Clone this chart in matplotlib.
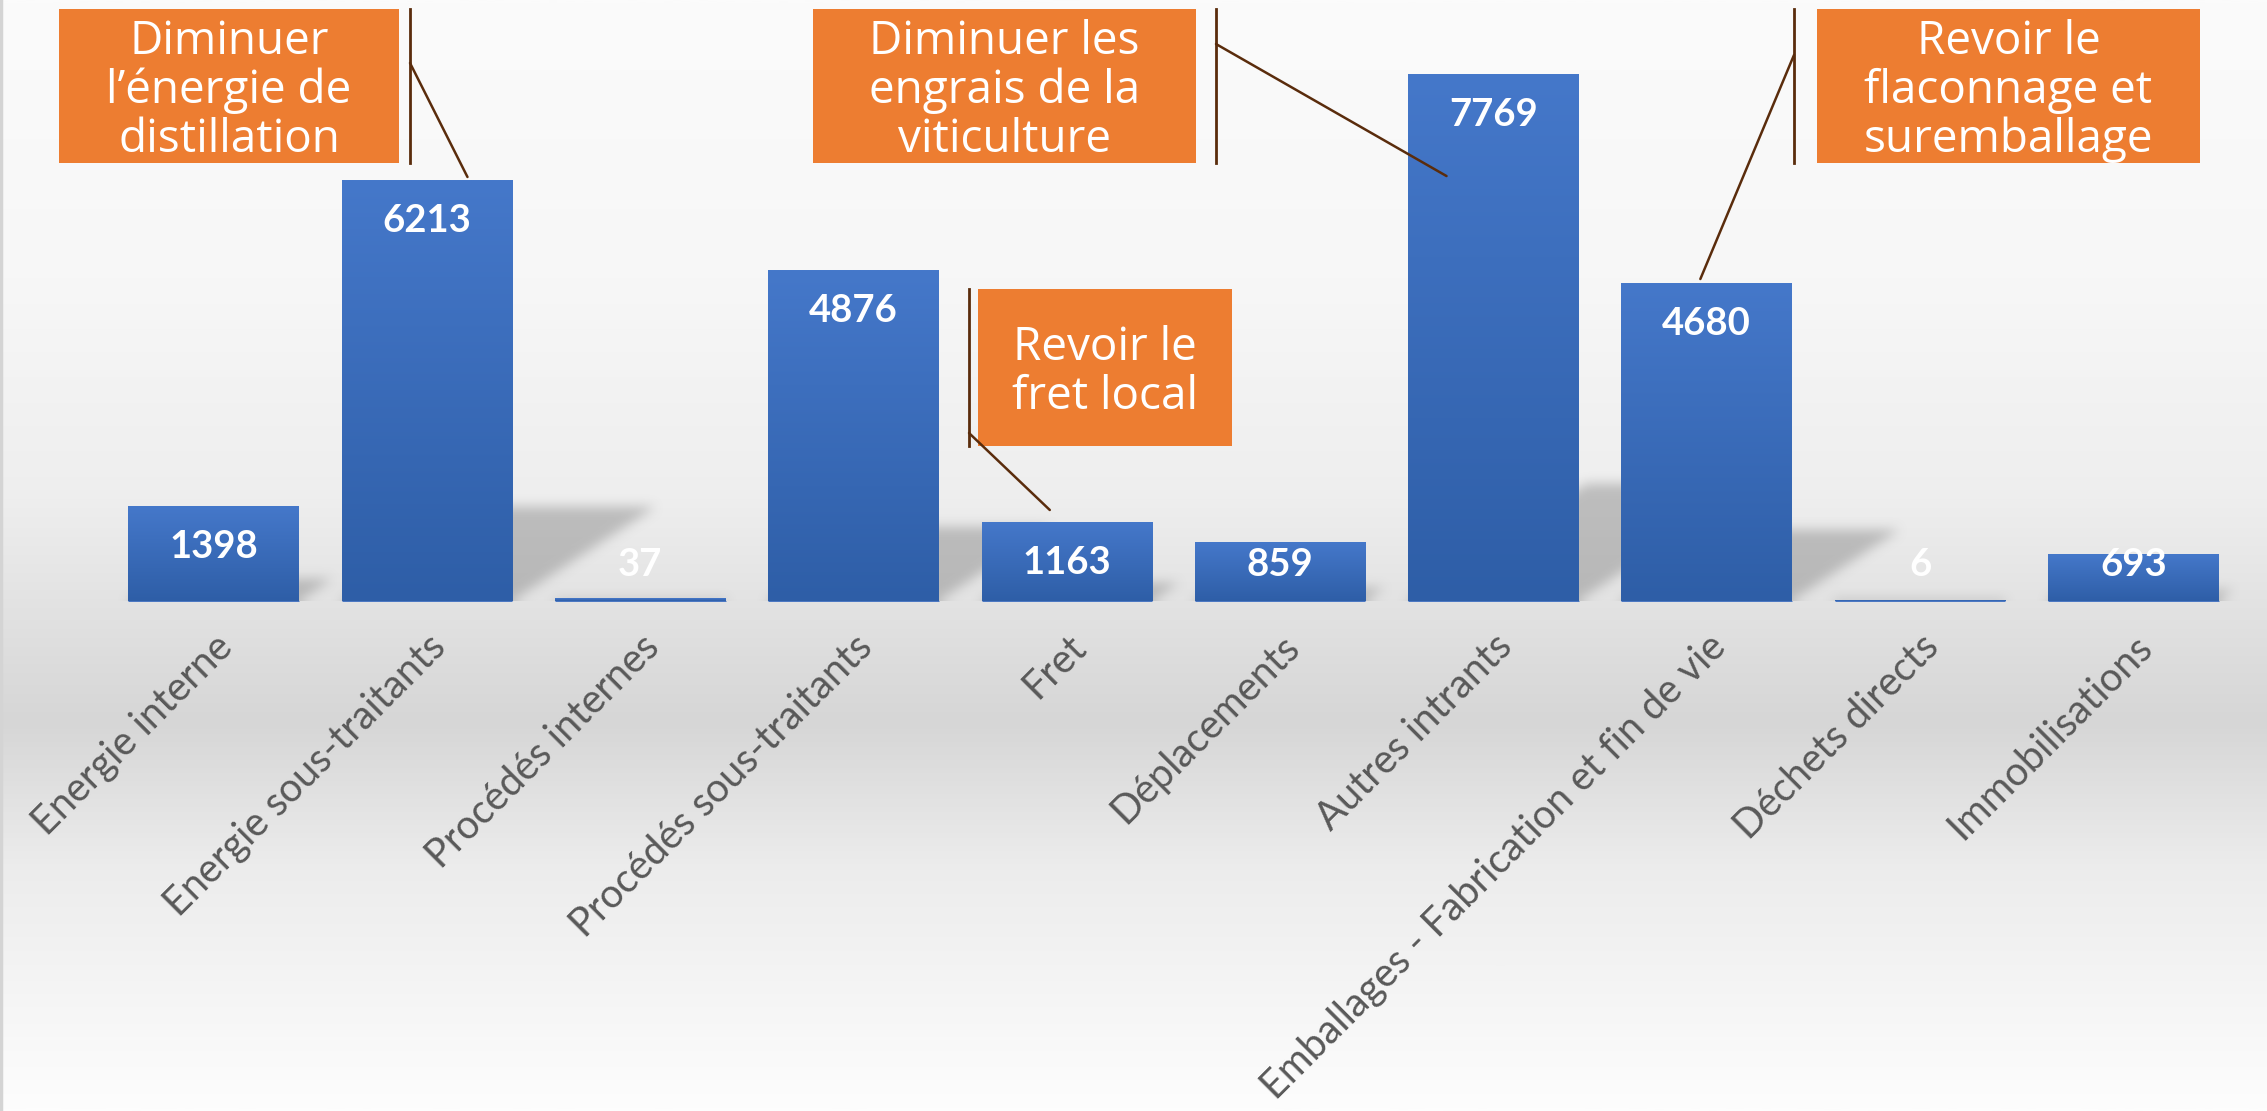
import numpy as np
import matplotlib
matplotlib.use("Agg")
import matplotlib.pyplot as plt
from matplotlib.patches import Rectangle, ConnectionPatch
from matplotlib.lines import Line2D
from matplotlib.colors import LinearSegmentedColormap

# data
categories = [
    "Energie interne",
    "Energie sous-traitants",
    "Procédés internes",
    "Procédés sous-traitants",
    "Fret",
    "Déplacements",
    "Autres intrants",
    "Emballages - Fabrication et fin de vie",
    "Déchets directs",
    "Immobilisations",
]
values = [1398, 6213, 37, 4876, 1163, 859, 7769, 4680, 6, 693]

callout_texts = [
    "Diminuer\nl’énergie de\ndistillation",
    "Diminuer les\nengrais de la\nviticulture",
    "Revoir le\nfret local",
    "Revoir le\nflaconnage et\nsuremballage",
]
callout_targets = [1, 6, 4, 7]   # index of the bar each callout points to

plt.rcParams["font.family"] = ["Lato", "DejaVu Sans"]

W, H = 2267, 1111
fig = plt.figure(figsize=(W / 100, H / 100), dpi=100)

# background gradient (whole picture)
bg_cmap = LinearSegmentedColormap.from_list("bg", [
    (0.0, "#fbfbfb"), (0.25, "#f7f7f7"), (0.45, "#eeeeee"),
    (0.54, "#e3e3e3"), (0.65, "#d6d6d6"), (0.78, "#ececec"), (1.0, "#fdfdfd"),
])
bg = fig.add_axes([0, 0, 1, 1], zorder=-10)
bg.imshow(np.linspace(0, 1, 512)[:, None], cmap=bg_cmap, aspect="auto",
          extent=(0, 1, 0, 1))
bg.set_xlim(0, 1)
bg.set_ylim(0, 1)
bg.axis("off")
fig.add_artist(Line2D([1 / W, 1 / W], [0, 1], color="#d4d4d4", lw=2.5,
                      transform=fig.transFigure))

# main axes, baseline at y=601 px
base_px = 601.5
ymax = 8880
ax = fig.add_axes([107 / W, 1 - base_px / H, 2133 / W, base_px / H])
ax.patch.set_alpha(0)

n = len(values)
width = 0.8

# soft perspective shadows, rasterised and blurred
nx, ny = 2133, 600
xs = np.linspace(-0.5, n - 0.5, nx)
ys = np.linspace(0, ymax, ny)
X, Y = np.meshgrid(xs, ys)
mask = np.zeros_like(X)
for i, v in enumerate(values):
    hs = 0.223 * v
    if hs <= 0:
        continue
    off = 1.08e-4 * v * np.clip(Y / hs, 0, 1)
    inside = (Y <= hs) & (X - off >= i - width / 2) & (X - off <= i + width / 2)
    mask[inside] = 1.0


def box_blur(a, r, axis):
    pad = [(0, 0), (0, 0)]
    pad[axis] = (r + 1, r)
    c = np.cumsum(np.pad(a, pad, mode="edge"), axis=axis)
    k = 2 * r + 1
    if axis == 0:
        return (c[k:] - c[:-k]) / k
    return (c[:, k:] - c[:, :-k]) / k


for _ in range(3):
    mask = box_blur(mask, 5, 0)
    mask = box_blur(mask, 5, 1)

shadow = np.zeros((ny, nx, 4))
shadow[..., :3] = 0.55
shadow[..., 3] = mask * 0.5
ax.imshow(shadow, extent=(-0.5, n - 0.5, 0, ymax), origin="lower",
          aspect="auto", zorder=2, interpolation="bilinear")

# bars with vertical gradient
bar_cmap = LinearSegmentedColormap.from_list("bar", ["#4578ca", "#2e5ea7"])
grad = np.linspace(0, 1, 256)[:, None]
for i, v in enumerate(values):
    ax.imshow(grad, extent=(i - width / 2, i + width / 2, 0, v), cmap=bar_cmap,
              aspect="auto", zorder=3, origin="upper")
ax.hlines(np.zeros(n), np.arange(n) - width / 2, np.arange(n) + width / 2,
          color="#3a6cbf", lw=2, zorder=3)

# value labels (inside end, kept above the baseline for short bars)
for i, v in enumerate(values):
    y = max(v - 590, 546)
    ax.text(i, y, f"{v}", ha="center", va="center", color="white",
            fontsize=27.5, fontweight="bold", zorder=5)

ax.set_xlim(-0.5, n - 0.5)
ax.set_ylim(0, ymax)
ax.set_xticks(range(n))
ax.set_xticklabels(categories, rotation=45, ha="right", rotation_mode="anchor",
                   fontsize=28.5, color="#595959")
ax.tick_params(axis="x", length=0, pad=19)
ax.set_yticks([])
for s in ax.spines.values():
    s.set_visible(False)

# callouts: box (x0, y0, x1, y1) in px, accent bar x, joint y, offset to target
callout_boxes = [(59, 9, 399, 163), (813, 9, 1196, 163),
                 (978, 289, 1232, 446), (1817, 9, 2200, 163)]
accent_x = [410, 1216, 969, 1794]
joint_y = [63, 44, 433, 55]
target_off = [(0.19, 54), (-0.22, -1488), (-0.08, 188), (-0.03, 81)]
line_col = "#5a2c0c"

for txt, (x0, y0, x1, y1), axx, jy, tgt, (dx, dy) in zip(
        callout_texts, callout_boxes, accent_x, joint_y, callout_targets, target_off):
    fig.add_artist(Rectangle((x0 / W, 1 - y1 / H), (x1 - x0) / W, (y1 - y0) / H,
                             transform=fig.transFigure, facecolor="#ed7d31",
                             edgecolor="none", zorder=6))
    fig.text((x0 + x1) / 2 / W, 1 - ((y0 + y1) / 2 + 5) / H, txt, ha="center",
             va="center", color="white", fontsize=33, linespacing=1.08,
             family=["Open Sans", "DejaVu Sans"], zorder=7)
    fig.add_artist(Line2D([axx / W, axx / W], [1 - y0 / H, 1 - y1 / H],
                          color=line_col, lw=2, transform=fig.transFigure, zorder=6))
    fig.add_artist(ConnectionPatch(xyA=(axx / W, 1 - jy / H), coordsA=fig.transFigure,
                                   xyB=(tgt + dx, values[tgt] + dy), coordsB=ax.transData,
                                   color=line_col, lw=1.8, zorder=6))

fig.savefig("out.png", dpi=100)
